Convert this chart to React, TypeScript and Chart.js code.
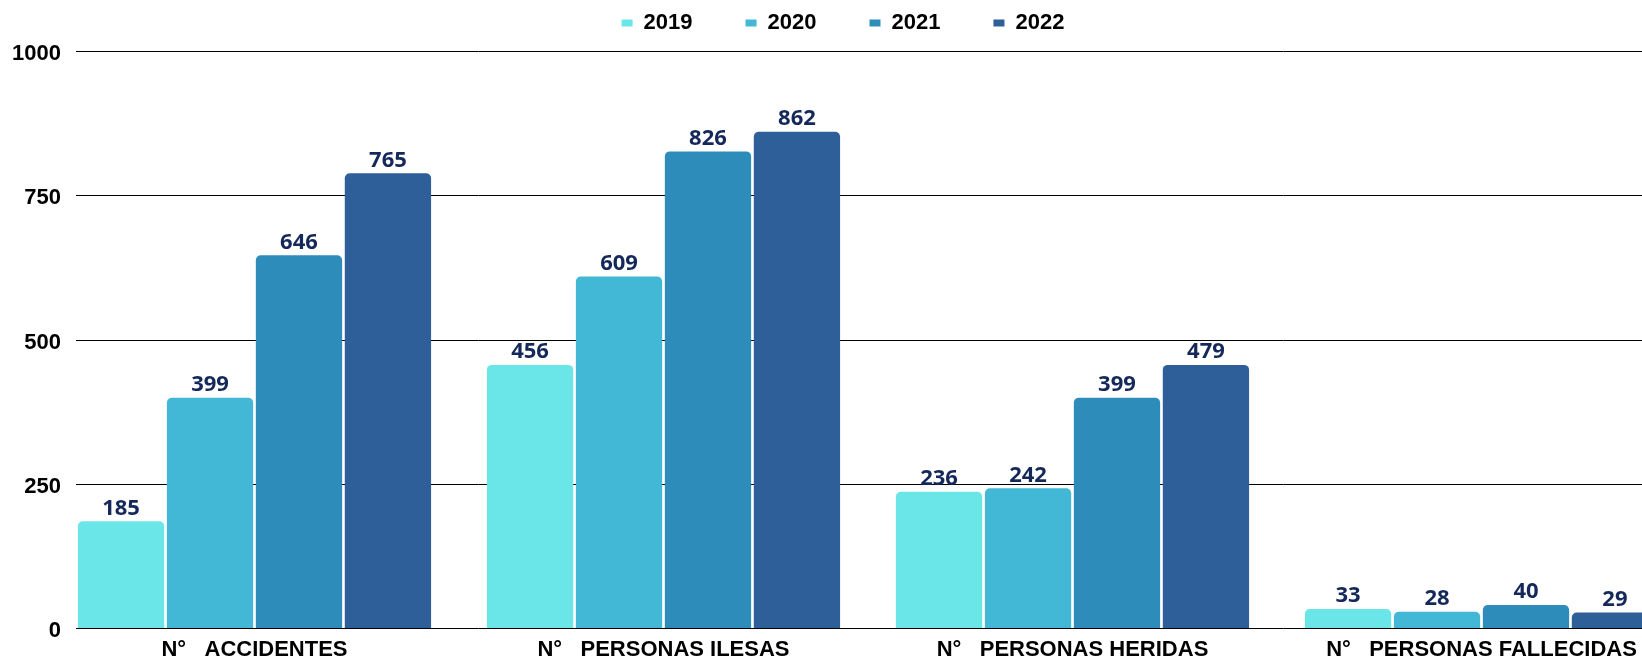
import React, { useEffect, useRef } from 'react';
import { Chart, registerables } from 'chart.js';

Chart.register(...registerables);

const categories = ['N°   ACCIDENTES', 'N°   PERSONAS ILESAS', 'N°   PERSONAS HERIDAS', 'N°   PERSONAS FALLECIDAS'];
const years = ['2019', '2020', '2021', '2022'];

// bar heights as drawn in the picture
const values2019 = [185, 456, 236, 33];
const values2020 = [399, 609, 242, 28];
const values2021 = [646, 826, 399, 40];
const values2022 = [788, 860, 456, 27];

// value labels printed above the bars
const labels2019 = ['185', '456', '236', '33'];
const labels2020 = ['399', '609', '242', '28'];
const labels2021 = ['646', '826', '399', '40'];
const labels2022 = ['765', '862', '479', '29'];

const yMin = 0;
const yMax = 1000;
const yStep = 250;

const colors = ['#6ae6e8', '#42b8d6', '#2e8cba', '#2f5f98'];
const seriesValues = [values2019, values2020, values2021, values2022];
const seriesLabels = [labels2019, labels2020, labels2021, labels2022];

const FONT = '"Liberation Sans", Arial, sans-serif';

const gridPlugin = {
  id: 'customGrid',
  beforeDatasetsDraw(chart: any) {
    const y = chart.scales.y;
    const ctx = chart.ctx;
    ctx.save();
    ctx.strokeStyle = '#000';
    ctx.lineWidth = 1;
    y.ticks.forEach((t: any) => {
      const py = Math.round(y.getPixelForValue(t.value)) + 0.5;
      ctx.beginPath();
      ctx.moveTo(76, py);
      ctx.lineTo(chart.chartArea.right, py);
      ctx.stroke();
    });
    ctx.restore();
  },
};

const valueLabelPlugin = {
  id: 'valueLabels',
  afterDatasetsDraw(chart: any) {
    const ctx = chart.ctx;
    ctx.save();
    ctx.font = 'bold 22px "Open Sans", "Noto Sans", sans-serif';
    ctx.textAlign = 'center';
    ctx.textBaseline = 'alphabetic';
    ctx.fillStyle = '#14285a';
    chart.data.datasets.forEach((_ds: any, i: number) => {
      const meta = chart.getDatasetMeta(i);
      meta.data.forEach((bar: any, j: number) => {
        ctx.fillText(seriesLabels[i][j], bar.x, bar.y - 6.5);
      });
    });
    ctx.restore();
  },
};

export default function App() {
  const ref = useRef<HTMLCanvasElement | null>(null);

  useEffect(() => {
    if (!ref.current) return;
    Chart.defaults.font.family = FONT;
    const chart = new Chart(ref.current, {
      type: 'bar',
      data: {
        labels: categories,
        datasets: years.map((yr, i) => ({
          label: yr,
          data: seriesValues[i],
          backgroundColor: colors[i],
          borderWidth: 0,
          borderRadius: 5,
          borderSkipped: 'start',
          barPercentage: 0.97,
          categoryPercentage: 0.87,
        })),
      },
      options: {
        animation: false,
        responsive: false,
        maintainAspectRatio: false,
        layout: { padding: { top: -41, left: 0, right: 0, bottom: 0 } },
        plugins: {
          legend: {
            position: 'top',
            labels: {
              boxWidth: 11,
              boxHeight: 7,
              padding: 53,
              color: '#000',
              font: { size: 22, weight: 'bold', family: FONT },
            },
          },
          tooltip: { enabled: false },
        },
        scales: {
          x: {
            type: 'category',
            grid: { display: false, drawTicks: false },
            border: { display: false },
            ticks: {
              color: '#000',
              font: { size: 22, weight: 'bold', family: FONT },
              padding: 9,
              maxRotation: 0,
              autoSkip: false,
            },
            afterFit: (s: any) => {
              s.height = 39;
            },
          },
          xTop: {
            type: 'category',
            position: 'top',
            grid: { display: false, drawTicks: false },
            border: { display: false },
            ticks: { display: false },
            afterFit: (s: any) => {
              s.height = 7;
            },
          },
          y: {
            min: yMin,
            max: yMax,
            grid: { display: false, drawTicks: false },
            border: { display: false },
            ticks: {
              stepSize: yStep,
              color: '#000',
              font: { size: 22, weight: 'bold', family: FONT },
              mirror: true,
              crossAlign: 'far',
              padding: -38,
              labelOffset: 3,
              callback: (v: any) => String(v),
            },
            afterFit: (s: any) => {
              s.width = 50;
            },
          },
        },
      } as any,
      plugins: [gridPlugin, valueLabelPlugin],
    });
    return () => chart.destroy();
  }, []);

  return (
    <div style={{ position: 'absolute', left: 0, top: 0, width: 1642, height: 667, overflow: 'hidden', background: '#fff' }}>
      <canvas ref={ref} width={1686} height={667} style={{ width: 1686, height: 667, display: 'block' }} />
    </div>
  );
}
